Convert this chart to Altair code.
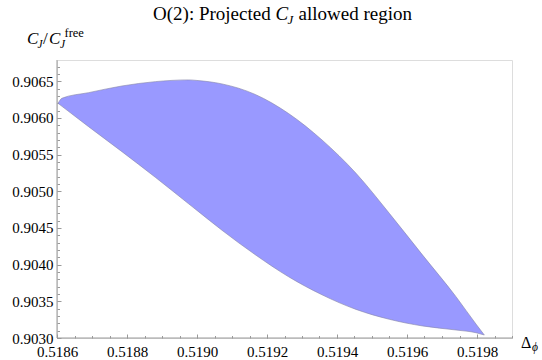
import altair as alt
import pandas as pd

# ---- data ----
DPHI = [0.5186029, 0.5186143, 0.5186903, 0.5187857, 0.5188809, 0.5189760, 0.5190000,
        0.5190714, 0.5191666, 0.5192617, 0.5193571, 0.5194543, 0.5195494, 0.5196446,
        0.5197400, 0.5197971, 0.5198209]
UPPER = [0.906200, 0.906269, 0.906345, 0.906436, 0.906495, 0.906519, 0.906511,
         0.906464, 0.906320, 0.906060, 0.905700, 0.905246, 0.904700, 0.904130,
         0.903563, 0.903190, 0.903041]
LOWER = [0.906200, 0.906158, 0.905881, 0.905540, 0.905191, 0.904830, 0.904739,
         0.904469, 0.904135, 0.903835, 0.903589, 0.903390, 0.903255, 0.903164,
         0.903109, 0.903072, 0.903041]

X_DOMAIN = [0.5186, 0.5199]
Y_DOMAIN = [0.9030, 0.90679]
X_MAJOR = [0.5186, 0.5188, 0.5190, 0.5192, 0.5194, 0.5196, 0.5198]
X_MINOR = [round(0.5186 + 0.00005 * i, 6) for i in range(27)]
Y_MAJOR = [0.9030, 0.9035, 0.9040, 0.9045, 0.9050, 0.9055, 0.9060, 0.9065]
Y_MINOR = [round(0.9030 + 0.0001 * i, 5) for i in range(38)]

TITLE_MAIN = "O(2): Projected"
TITLE_C = "C"
TITLE_J = "J"
TITLE_END = "allowed region"

W, H = 455, 278
FONT = "'Liberation Serif', 'Times New Roman', 'DejaVu Serif', serif"
AX = "#9a9a9a"
FILL = "#9999ff"

df = pd.DataFrame({"dphi": DPHI, "upper": UPPER, "lower": LOWER})

xs = alt.Scale(domain=X_DOMAIN, nice=False, zero=False)
ys = alt.Scale(domain=Y_DOMAIN, nice=False, zero=False)

common_axis = dict(domain=False, grid=False, title=None, tickColor=AX, tickWidth=1,
                   labelFont=FONT, labelFontSize=15, labelColor="black")

area = alt.Chart(df).mark_area(
    color=FILL, fill=FILL, fillOpacity=1, stroke="#8585a8", strokeWidth=0.6,
    interpolate="monotone"
).encode(
    x=alt.X("dphi:Q", scale=xs, axis=alt.Axis(values=X_MAJOR, format=".4f", tickSize=4,
            offset=-4, orient="bottom", labelPadding=6.5, labelFlush=False,
            labelOverlap=False, **common_axis)),
    y=alt.Y("upper:Q", scale=ys, axis=alt.Axis(values=Y_MAJOR, format=".4f", tickSize=4,
            offset=-4, orient="left", labelPadding=4, labelFlush=False,
            labelOverlap=False, **common_axis)),
    y2="lower:Q",
)

minor_axis = dict(domain=False, grid=False, title=None, tickColor=AX, tickWidth=1,
                  labels=False, tickSize=2.5, offset=-2.5)

xline = alt.Chart(pd.DataFrame({"v": [X_DOMAIN[0]]})).mark_rule(color=AX, strokeWidth=1).encode(
    x=alt.X("v:Q", scale=xs, axis=alt.Axis(values=X_MINOR, orient="bottom", **minor_axis))
)
yline = alt.Chart(pd.DataFrame({"v": [Y_DOMAIN[0]]})).mark_rule(color=AX, strokeWidth=1).encode(
    y=alt.Y("v:Q", scale=ys, axis=alt.Axis(values=Y_MINOR, orient="left", **minor_axis))
)


def txt(s, x, y, size, style="normal", align="left"):
    return alt.Chart().mark_text(
        font=FONT, fontSize=size, fontStyle=style, align=align, baseline="alphabetic",
        color="black"
    ).encode(x=alt.value(x), y=alt.value(y), text=alt.value(s))


texts = [
    # title
    txt(TITLE_MAIN, 96, -40, 19),
    txt(TITLE_C, 218.5, -40, 19, "italic"),
    txt(TITLE_J, 230.5, -36, 13, "italic"),
    txt(TITLE_END, 241.5, -40, 19),
    # y-axis label C_J / C_J^free
    txt("C", -30, -16, 17, "italic"),
    txt("J", -19.5, -12, 11.5, "italic"),
    txt("/", -14, -16, 17),
    txt("C", -8, -16, 17, "italic"),
    txt("J", 3, -12, 11.5, "italic"),
    txt("free", 7.5, -23, 12.5),
    # x-axis label Delta_phi
    txt("\u0394", 464, 288, 16),
    txt("\u03d5", 475, 291, 11.5, "italic"),
]

chart = alt.layer(area, xline, yline, *texts).resolve_axis(
    x="independent", y="independent"
).properties(
    width=W, height=H,
    autosize=alt.AutoSizeParams(type="none"),
    padding={"left": 57, "top": 60, "right": 30, "bottom": 22},
).configure_view(stroke=None).configure_axis(
    labelFont=FONT, labelFontSize=15
).configure(background="white")

chart.save("out.html", embed_options={"renderer": "svg", "actions": False})
